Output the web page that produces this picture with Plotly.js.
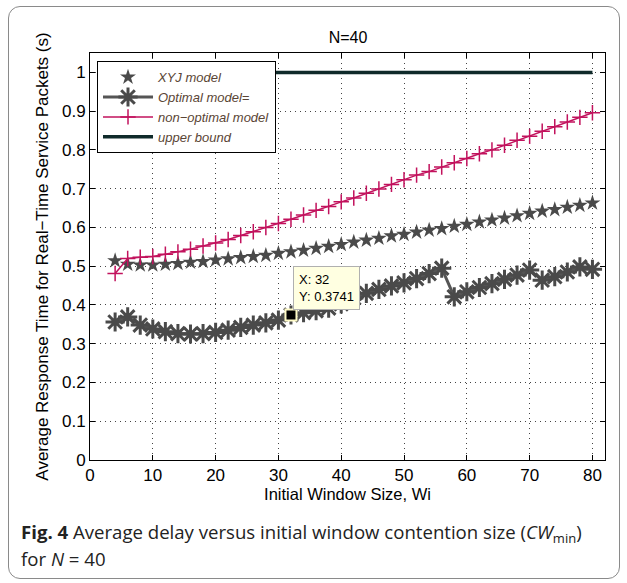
<!DOCTYPE html>
<html>
<head>
<meta charset="utf-8">
<script src="https://cdn.plot.ly/plotly-3.0.1.min.js"></script>
<style>
html,body{margin:0;padding:0;background:#fff;}
#wrap{position:relative;width:627px;height:583px;}
#chart{position:absolute;left:0;top:0;width:627px;height:583px;}
#frame{position:absolute;left:8px;top:6px;width:610px;height:571px;border:1.5px solid #8a8a8a;border-radius:12px;pointer-events:none;}
</style>
</head>
<body>
<div id="wrap"><div id="chart"></div><div id="frame"></div></div>
<script>
const windowSizes = [4,6,8,10,12,14,16,18,20,22,24,26,28,30,32,34,36,38,40,42,44,46,48,50,52,54,56,58,60,62,64,66,68,70,72,74,76,78,80];
const xyjModel = [0.514,0.505,0.503,0.503,0.505,0.507,0.510,0.512,0.516,0.519,0.522,0.525,0.528,0.533,0.537,0.541,0.546,0.551,0.556,0.562,0.567,0.572,0.578,0.582,0.588,0.593,0.597,0.603,0.608,0.614,0.619,0.624,0.630,0.636,0.642,0.646,0.652,0.657,0.663];
const optimalModel = [0.356,0.369,0.348,0.338,0.331,0.326,0.325,0.326,0.329,0.335,0.342,0.348,0.354,0.361,0.3741,0.380,0.385,0.392,0.403,0.418,0.430,0.440,0.449,0.457,0.468,0.481,0.495,0.421,0.434,0.445,0.455,0.466,0.477,0.490,0.464,0.473,0.485,0.498,0.492];
const nonOptimalModel = [0.481,0.520,0.523,0.525,0.531,0.537,0.544,0.552,0.560,0.569,0.579,0.589,0.600,0.610,0.621,0.632,0.644,0.654,0.666,0.676,0.688,0.699,0.711,0.723,0.735,0.744,0.756,0.767,0.778,0.790,0.800,0.812,0.825,0.835,0.848,0.860,0.872,0.884,0.896];
const upperBoundX = [4, 80];
const upperBound = [1, 1];
const tipX = [32];
const tipY = [0.3741];
const xTicks = [0,10,20,30,40,50,60,70,80];
const yTicks = [0,0.1,0.2,0.3,0.4,0.5,0.6,0.7,0.8,0.9,1];
const yTickLabels = ['0','0.1','0.2','0.3','0.4','0.5','0.6','0.7','0.8','0.9','1'];

const baseFont = "Arial";
const capFont = "Open Sans";

const traces = [
  {x: windowSizes, y: xyjModel, name: 'XYJ model', mode: 'markers', type: 'scatter',
   marker: {symbol: 'star', size: 12, color: '#4a4a4a', line: {width: 0}}},
  {x: windowSizes, y: optimalModel, name: 'Optimal model=', mode: 'lines+markers', type: 'scatter',
   line: {color: '#555555', width: 3},
   marker: {symbol: 'asterisk-open', size: 16, color: '#4a4a4a', line: {width: 3, color: '#4a4a4a'}}},
  {x: windowSizes, y: nonOptimalModel, name: 'non\u2212optimal model', mode: 'lines+markers', type: 'scatter',
   line: {color: '#c2125d', width: 1.5},
   marker: {symbol: 'cross-thin-open', size: 11, color: '#c2125d', line: {width: 1.5, color: '#c2125d'}}},
  {x: upperBoundX, y: upperBound, name: 'upper bound', mode: 'lines', type: 'scatter',
   line: {color: '#0f2a2a', width: 3.5}},
  {x: tipX, y: tipY, mode: 'markers', type: 'scatter', showlegend: false, hoverinfo: 'skip',
   marker: {symbol: 'square', size: 11, color: '#000000', line: {width: 2, color: '#fffbc8'}}}
];

const layout = {
  width: 627, height: 583,
  margin: {l: 90, r: 22, t: 53, b: 123},
  paper_bgcolor: '#ffffff', plot_bgcolor: '#ffffff',
  showlegend: true,
  font: {family: baseFont},
  title: {text: 'N=40', x: 0.555, xanchor: 'center', y: 0.936, yanchor: 'middle',
          font: {family: baseFont, size: 16, color: '#000'}},
  xaxis: {range: [0, 82], tickvals: xTicks, ticktext: xTicks.map(String),
          showline: true, linecolor: '#000', linewidth: 1, mirror: 'ticks',
          ticks: 'inside', ticklen: 5, tickcolor: '#000',
          showgrid: true, gridcolor: '#444', griddash: '1px,4px', gridwidth: 1,
          zeroline: false,
          tickfont: {family: baseFont, size: 17, color: '#000'},
          title: {text: 'Initial Window Size, Wi', standoff: 0, font: {family: baseFont, size: 16.5, color: '#000'}}},
  yaxis: {range: [0, 1.05], tickvals: yTicks, ticktext: yTickLabels,
          showline: true, linecolor: '#000', linewidth: 1, mirror: 'ticks',
          ticks: 'inside', ticklen: 5, tickcolor: '#000',
          showgrid: true, gridcolor: '#444', griddash: '1px,4px', gridwidth: 1,
          zeroline: false,
          tickfont: {family: baseFont, size: 17, color: '#000'},
          title: {text: 'Average Response Time for Real\u2212Time Service Packets (s)', standoff: 9,
                  font: {family: baseFont, size: 17, color: '#000'}}},
  legend: {x: 0.0136, y: 0.98, xanchor: 'left', yanchor: 'top',
           bgcolor: '#ffffff', bordercolor: '#000', borderwidth: 1,
           font: {family: baseFont, size: 13, color: '#5a4535', style: 'italic'},
           itemwidth: 50, tracegroupgap: 0},
  annotations: [
    {xref: 'x', yref: 'y', x: 32, y: 0.3741, xanchor: 'left', yanchor: 'bottom',
     xshift: 2, yshift: 5, showarrow: false, align: 'left',
     text: 'X: 32<br>Y: 0.3741', bgcolor: '#ffffe1', bordercolor: '#b0b0b0', borderwidth: 1, borderpad: 5,
     font: {family: baseFont, size: 13, color: '#000'}},
    {xref: 'paper', yref: 'paper', x: -0.138, y: -0.18, xanchor: 'left', yanchor: 'middle', showarrow: false,
     align: 'left',
     text: '<b>Fig. 4</b> Average delay versus initial window contention size (<i>CW</i><sub>min</sub>)',
     font: {family: capFont, size: 18.6, color: '#222'}},
    {xref: 'paper', yref: 'paper', x: -0.138, y: -0.243, xanchor: 'left', yanchor: 'middle', showarrow: false,
     align: 'left',
     text: 'for <i>N</i> = 40',
     font: {family: capFont, size: 18.6, color: '#222'}}
  ]
};

Plotly.newPlot('chart', traces, layout, {displayModeBar: false, staticPlot: true});
</script>
</body>
</html>
